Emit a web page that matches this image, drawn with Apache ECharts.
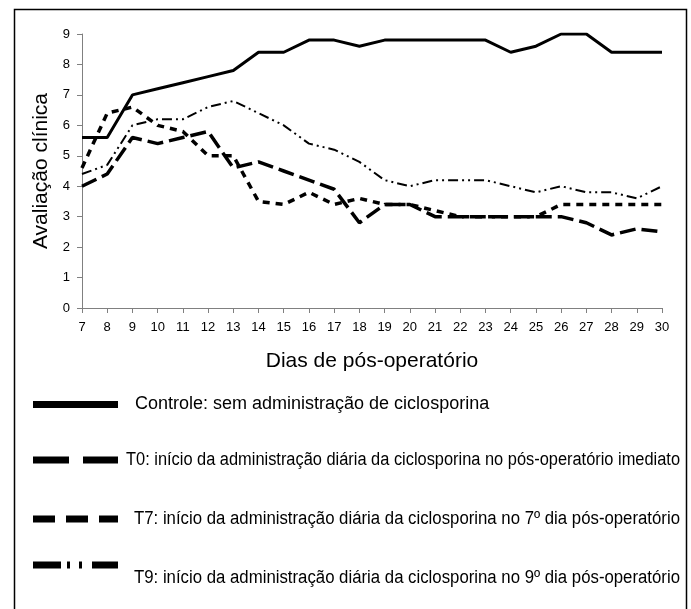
<!DOCTYPE html>
<html><head><meta charset="utf-8">
<script src="https://cdn.jsdelivr.net/npm/echarts@6/dist/echarts.min.js"></script>
<style>html,body{margin:0;padding:0;background:#fff}#c{width:691px;height:609px}</style>
</head><body><div id="c"></div>
<script>
const days = ['7','8','9','10','11','12','13','14','15','16','17','18','19','20','21','22','23','24','25','26','27','28','29','30'];
const controle = [5.6,5.6,7.0,7.2,7.4,7.6,7.8,8.4,8.4,8.8,8.8,8.6,8.8,8.8,8.8,8.8,8.8,8.4,8.6,9.0,9.0,8.4,8.4,8.4];
const t0 = [4.0,4.4,5.6,5.4,5.6,5.8,4.6,4.8,4.5,4.2,3.9,2.8,3.4,3.4,3.0,3.0,3.0,3.0,3.0,3.0,2.8,2.4,2.6,2.5];
const t7 = [4.6,6.4,6.6,6.0,5.8,5.0,5.0,3.5,3.4,3.8,3.4,3.6,3.4,3.4,3.2,3.0,3.0,3.0,3.0,3.4,3.4,3.4,3.4,3.4];
const t9 = [4.4,4.7,6.0,6.2,6.2,6.6,6.8,6.4,6.0,5.4,5.2,4.8,4.2,4.0,4.2,4.2,4.2,4.0,3.8,4.0,3.8,3.8,3.6,4.0];
const seriesNames = [
  'Controle: sem administração de ciclosporina',
  'T0: início da administração diária da ciclosporina no pós-operatório imediato',
  'T7: início da administração diária da ciclosporina no 7º dia pós-operatório',
  'T9: início da administração diária da ciclosporina no 9º dia pós-operatório'
];
const yTicks = [0,1,2,3,4,5,6,7,8,9];

const FONT = '"Liberation Sans", Arial, sans-serif';
const cv = document.createElement('canvas').getContext('2d');
function measure(t, size){ cv.font = size + 'px ' + FONT; return cv.measureText(t).width; }

const legendRows = [
  {y:404.5, ty:404.5, dash:null, x0:135, x1:null},
  {y:460, ty:460, dash:[36,14], x0:126, x1:680},
  {y:519, ty:519, dash:[22,11], x0:134, x1:680},
  {y:565, ty:578, dash:[28,6,3,9,3,10,30], x0:134, x1:680}
];
const graphics = [
  {type:'rect', shape:{x:14.5,y:9.5,width:672,height:620}, style:{fill:null, stroke:'#000', lineWidth:1.5}, silent:true}
];
legendRows.forEach((r,i)=>{
  graphics.push({type:'line', shape:{x1:33,y1:r.y,x2:118,y2:r.y}, style:{stroke:'#000', lineWidth:7, lineDash:r.dash||null}});
  const fs = 18;
  const w = measure(seriesNames[i], fs);
  const sx = r.x1 ? (r.x1-r.x0)/w : 1;
  graphics.push({type:'text', x:r.x0, y:r.ty, scaleX:sx, style:{text:seriesNames[i], font: fs+'px '+FONT, fill:'#000', verticalAlign:'middle'}});
});

const chart = echarts.init(document.getElementById('c'), null, {renderer:'canvas'});
const axisGray = '#808080';
chart.setOption({
  animation:false,
  backgroundColor:'#fff',
  textStyle:{fontFamily:FONT},
  grid:{left:82, right:29, top:34, bottom:301, containLabel:false},
  xAxis:{type:'category', data:days, boundaryGap:false,
    name:'Dias de pós-operatório', nameLocation:'middle', nameGap:43,
    nameTextStyle:{fontSize:21, color:'#000', fontFamily:FONT},
    axisLine:{lineStyle:{color:axisGray, width:1}},
    axisTick:{show:true, length:5, alignWithLabel:true, lineStyle:{color:axisGray}},
    axisLabel:{color:'#000', fontSize:13, margin:13, interval:0, fontFamily:FONT},
    splitLine:{show:false}},
  yAxis:{type:'value', min:0, max:9, interval:1,
    name:'Avaliação clínica', nameLocation:'middle', nameGap:26, nameRotate:90,
    nameTextStyle:{fontSize:21, color:'#000', fontFamily:FONT},
    axisLine:{show:true, lineStyle:{color:axisGray, width:1}},
    axisTick:{show:true, length:5, lineStyle:{color:axisGray}},
    axisLabel:{color:'#000', fontSize:13, margin:12, fontFamily:FONT, formatter:v=>yTicks.includes(v)?String(v):''},
    splitLine:{show:false}},
  series:[
    {name:seriesNames[0], type:'line', data:controle, symbol:'none', lineStyle:{color:'#000', width:3, type:'solid'}, z:5},
    {name:seriesNames[1], type:'line', data:t0, symbol:'none', lineStyle:{color:'#000', width:3.5, type:[16,6]}, z:4},
    {name:seriesNames[2], type:'line', data:t7, symbol:'none', lineStyle:{color:'#000', width:3.5, type:[7,6]}, z:3},
    {name:seriesNames[3], type:'line', data:t9, symbol:'none', lineStyle:{color:'#000', width:2, type:[10,4,2,4,2,4]}, z:2}
  ],
  graphic:graphics
});
</script></body></html>
